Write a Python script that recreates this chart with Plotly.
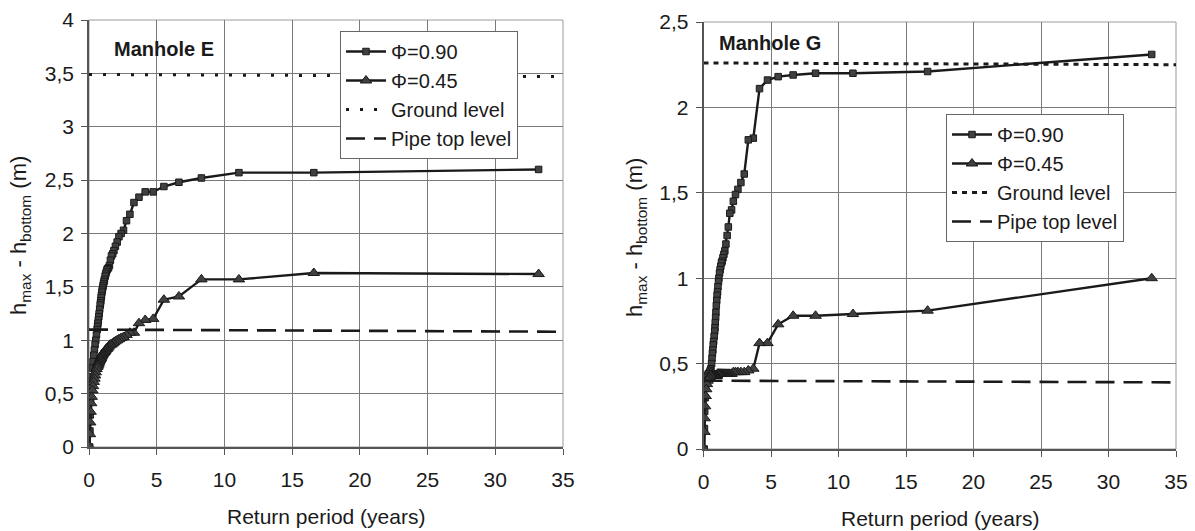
import plotly.graph_objects as go

# ---------------- data ----------------
return_period = [33.2, 16.6, 11.07, 8.3, 6.64, 5.53, 4.74, 4.15, 3.69, 3.32,
                 3.02, 2.77, 2.55, 2.37, 2.21, 2.08, 1.95, 1.84, 1.75, 1.66,
                 1.58, 1.51, 1.44, 1.38, 1.33, 1.28, 1.23, 1.19, 1.14, 1.11,
                 1.07, 1.04, 1.01, 0.98, 0.95, 0.92, 0.90, 0.87, 0.85, 0.83,
                 0.79, 0.75, 0.72, 0.69, 0.66, 0.63, 0.60, 0.55, 0.50, 0.45,
                 0.40, 0.35, 0.30, 0.25, 0.20, 0.16, 0.12, 0.09, 0.07, 0.05]

E_phi090 = [2.60, 2.57, 2.57, 2.52, 2.48, 2.44, 2.39, 2.39, 2.34, 2.29,
            2.18, 2.12, 2.03, 2.00, 1.97, 1.92, 1.88, 1.84, 1.81, 1.79,
            1.75, 1.70, 1.68, 1.67, 1.66, 1.64, 1.62, 1.60, 1.57, 1.55,
            1.53, 1.51, 1.49, 1.47, 1.45, 1.42, 1.40, 1.37, 1.35, 1.33,
            1.29, 1.25, 1.22, 1.19, 1.16, 1.13, 1.10, 1.05, 1.00, 0.96,
            0.91, 0.86, 0.80, 0.74, 0.66, 0.58, 0.45, 0.30, 0.15, 0.00]

E_phi045 = [1.62, 1.63, 1.57, 1.57, 1.41, 1.38, 1.20, 1.19, 1.16, 1.07,
            1.07, 1.05, 1.03, 1.02, 1.01, 1.00, 0.99, 0.98, 0.97, 0.96,
            0.96, 0.95, 0.94, 0.93, 0.92, 0.92, 0.91, 0.90, 0.89, 0.89,
            0.88, 0.88, 0.87, 0.86, 0.86, 0.85, 0.84, 0.83, 0.83, 0.82,
            0.81, 0.80, 0.79, 0.78, 0.77, 0.76, 0.75, 0.73, 0.70, 0.67,
            0.64, 0.61, 0.57, 0.53, 0.47, 0.41, 0.33, 0.23, 0.12, 0.00]

G_phi090 = [2.31, 2.21, 2.20, 2.20, 2.19, 2.18, 2.16, 2.11, 1.82, 1.81,
            1.61, 1.56, 1.52, 1.49, 1.45, 1.40, 1.38, 1.30, 1.25, 1.20,
            1.16, 1.14, 1.12, 1.10, 1.09, 1.07, 1.05, 1.03, 1.00, 0.98,
            0.95, 0.92, 0.90, 0.87, 0.84, 0.80, 0.77, 0.74, 0.71, 0.69,
            0.66, 0.63, 0.61, 0.58, 0.56, 0.53, 0.50, 0.47, 0.46, 0.45,
            0.44, 0.44, 0.43, 0.42, 0.40, 0.36, 0.30, 0.22, 0.12, 0.00]

G_phi045 = [1.00, 0.81, 0.79, 0.78, 0.78, 0.73, 0.62, 0.62, 0.47, 0.46,
            0.45, 0.45, 0.45, 0.45, 0.45, 0.44, 0.44, 0.44, 0.44, 0.44,
            0.44, 0.44, 0.44, 0.44, 0.44, 0.44, 0.44, 0.44, 0.44, 0.44,
            0.44, 0.44, 0.43, 0.43, 0.43, 0.43, 0.43, 0.43, 0.43, 0.43,
            0.43, 0.43, 0.43, 0.43, 0.43, 0.43, 0.43, 0.43, 0.43, 0.42,
            0.42, 0.41, 0.40, 0.38, 0.35, 0.31, 0.25, 0.18, 0.10, 0.00]

level_x = [0, 35]
E_ground = [3.49, 3.47]
E_pipe = [1.10, 1.08]
G_ground = [2.26, 2.25]
G_pipe = [0.40, 0.39]

series_names = ["Φ=0.90", "Φ=0.45", "Ground level", "Pipe top level"]
x_ticks = [0, 5, 10, 15, 20, 25, 30, 35]

# ---------------- styling ----------------
FONT = "Liberation Sans, Arial, sans-serif"
TXT_C = "#1a1a1a"
LINE_C = "#1a1a1a"
MARK_C = "#404040"

fig = go.Figure()


def add_panel(xa, ya, leg, phi90, phi45, ground, pipe, ground_dash):
    fig.add_trace(go.Scatter(
        x=return_period, y=phi90, name=series_names[0], mode="lines+markers",
        xaxis=xa, yaxis=ya, legend=leg,
        line=dict(color=LINE_C, width=2.4),
        marker=dict(symbol="square", size=6.5, color=MARK_C,
                    line=dict(color=LINE_C, width=1))))
    fig.add_trace(go.Scatter(
        x=return_period, y=phi45, name=series_names[1], mode="lines+markers",
        xaxis=xa, yaxis=ya, legend=leg,
        line=dict(color=LINE_C, width=2.4),
        marker=dict(symbol="triangle-up", size=10, color=MARK_C,
                    line=dict(color=LINE_C, width=1))))
    fig.add_trace(go.Scatter(
        x=level_x, y=ground, name=series_names[2], mode="lines",
        xaxis=xa, yaxis=ya, legend=leg,
        line=dict(color=LINE_C, width=3, dash=ground_dash)))
    fig.add_trace(go.Scatter(
        x=level_x, y=pipe, name=series_names[3], mode="lines",
        xaxis=xa, yaxis=ya, legend=leg,
        line=dict(color=LINE_C, width=2.6, dash="19px,9px")))


add_panel("x", "y", "legend", E_phi090, E_phi045, E_ground, E_pipe, "3px,11px")
add_panel("x2", "y2", "legend2", G_phi090, G_phi045, G_ground, G_pipe, "5px,5px")

W, H = 1195, 531
L_dom = [89 / W, 563 / W]
R_dom = [703.5 / W, 1176 / W]
L_ydom = [1 - 447 / H, 1 - 20 / H]
R_ydom = [1 - 449 / H, 1 - 22 / H]

TICK_FS = 21
common_x = dict(range=[0, 35], tickvals=x_ticks, showgrid=True,
                gridcolor="#7a7a7a", gridwidth=1, zeroline=False,
                showline=True, linecolor="#555555", linewidth=1.5,
                ticks="outside", ticklen=6, tickcolor="#555555",
                tickfont=dict(family=FONT, size=TICK_FS, color=TXT_C),
                ticklabelstandoff=7, fixedrange=True, automargin=False)
common_y = dict(dtick=0.5, showgrid=True, gridcolor="#7a7a7a", gridwidth=1,
                zeroline=False, showline=True, linecolor="#555555",
                linewidth=1.5, ticks="outside", ticklen=6,
                tickcolor="#555555",
                tickfont=dict(family=FONT, size=TICK_FS, color=TXT_C),
                ticklabelstandoff=3, fixedrange=True, automargin=False)

leg_common = dict(xanchor="left", yanchor="top", bgcolor="white",
                  bordercolor="#666666", borderwidth=1,
                  font=dict(family=FONT, size=20, color=TXT_C),
                  itemwidth=40, tracegroupgap=0)

fig.update_layout(
    template="none",
    width=W, height=H, autosize=False,
    margin=dict(l=0, r=0, t=0, b=0, pad=0, autoexpand=False),
    paper_bgcolor="white", plot_bgcolor="white",
    separators=",.",
    font=dict(family=FONT, size=21, color=TXT_C),
    xaxis=dict(domain=L_dom, anchor="y", **common_x),
    yaxis=dict(domain=L_ydom, anchor="x", range=[0, 4], **common_y),
    xaxis2=dict(domain=R_dom, anchor="y2", **common_x),
    yaxis2=dict(domain=R_ydom, anchor="x2", range=[0, 2.5], **common_y),
    legend=dict(x=340 / W, y=1 - 31 / H, **leg_common),
    legend2=dict(x=946 / W, y=1 - 114 / H, **leg_common),
    showlegend=True,
)

# plot frames (lighter top/right borders)
for xr, yr in (("x domain", "y domain"), ("x2 domain", "y2 domain")):
    fig.add_shape(type="rect", xref=xr, yref=yr, x0=0, x1=1, y0=0, y1=1,
                  line=dict(color="#9a9a9a", width=1), layer="below")

ann = []
ytitle = "h<sub>max</sub> - h<sub>bottom</sub> (m)"
base = dict(xref="paper", yref="paper", showarrow=False,
            xanchor="center", yanchor="middle")
ann.append(dict(text=ytitle, x=20 / W, y=1 - 236 / H, textangle=-90,
                font=dict(family=FONT, size=22, color=TXT_C), **base))
ann.append(dict(text=ytitle, x=636 / W, y=1 - 238 / H, textangle=-90,
                font=dict(family=FONT, size=22, color=TXT_C), **base))
ann.append(dict(text="Return period (years)", x=326 / W, y=1 - 516 / H,
                font=dict(family=FONT, size=21, color=TXT_C), **base))
ann.append(dict(text="Return period (years)", x=940 / W, y=1 - 518 / H,
                font=dict(family=FONT, size=21, color=TXT_C), **base))
ann.append(dict(text="<b>Manhole E</b>", x=163.5 / W, y=1 - 49 / H,
                font=dict(family=FONT, size=20, color=TXT_C), **base))
ann.append(dict(text="<b>Manhole G</b>", x=769.5 / W, y=1 - 43 / H,
                font=dict(family=FONT, size=20, color=TXT_C), **base))
fig.update_layout(annotations=ann)

fig.write_html("out.html",
               config={"displayModeBar": False},
               post_script="document.body.style.margin='0';"
                           "document.body.style.overflow='hidden';")
